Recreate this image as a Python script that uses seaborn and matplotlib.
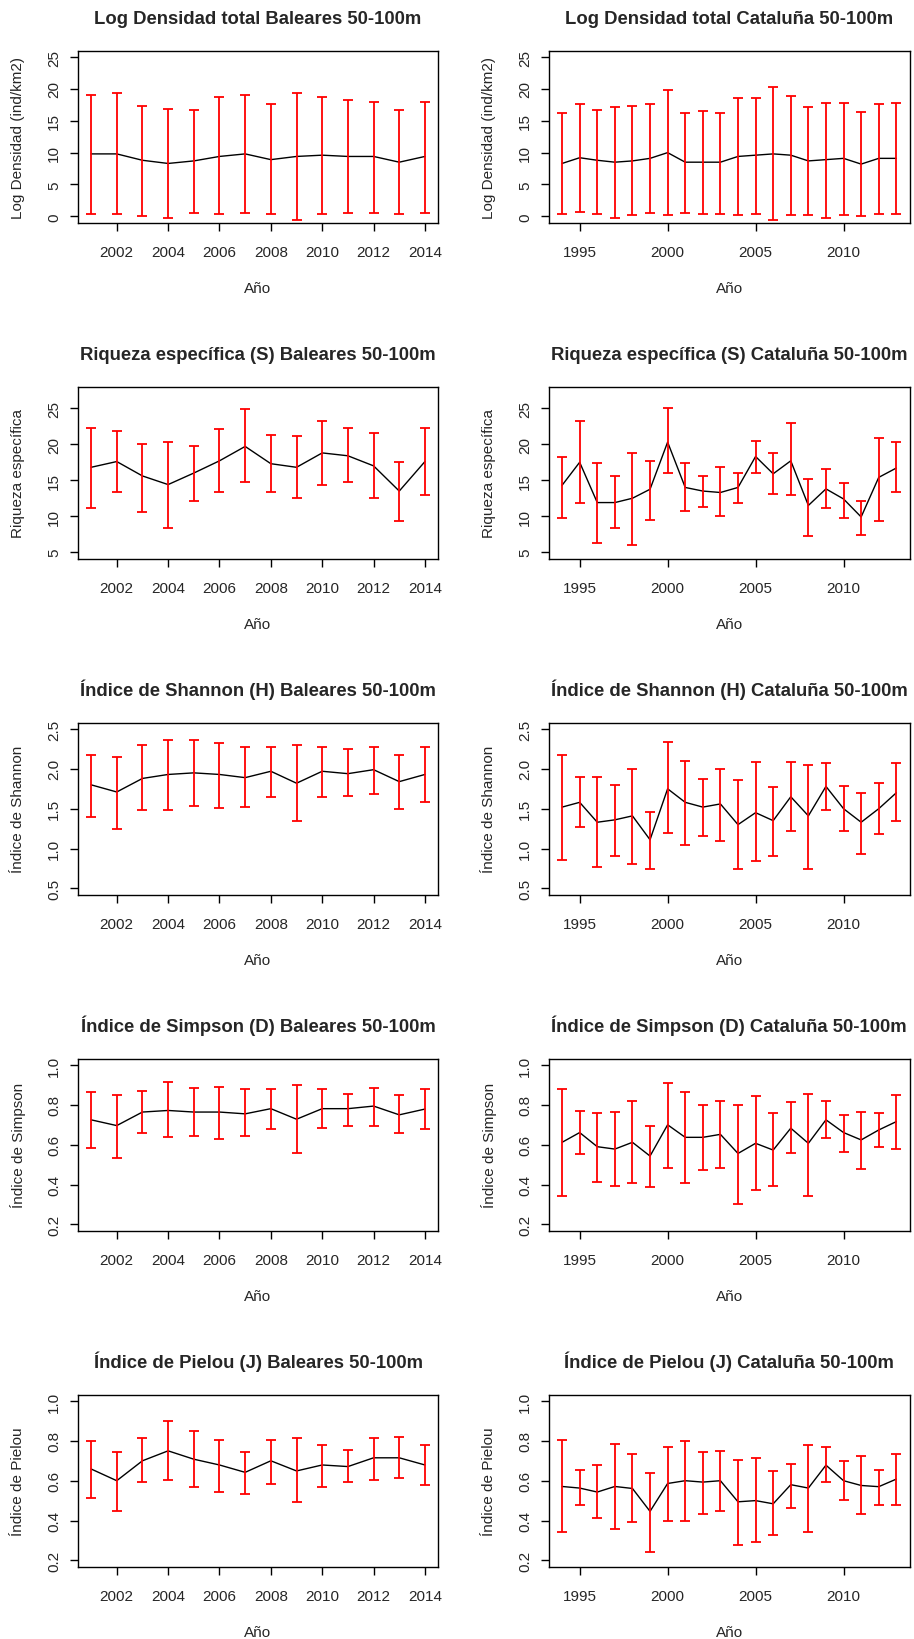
import numpy as np
import pandas as pd
import seaborn as sns
import matplotlib
matplotlib.use("Agg")
import matplotlib.pyplot as plt

# ---------------- data ----------------
years_bal = [2001, 2002, 2003, 2004, 2005, 2006, 2007, 2008, 2009, 2010, 2011, 2012, 2013, 2014]
years_cat = [1994, 1995, 1996, 1997, 1998, 1999, 2000, 2001, 2002, 2003,
             2004, 2005, 2006, 2007, 2008, 2009, 2010, 2011, 2012, 2013]

# Log densidad
dens_bal_mean = [9.8, 9.8, 8.8, 8.3, 8.7, 9.4, 9.8, 8.9, 9.4, 9.6, 9.4, 9.4, 8.5, 9.4]
dens_bal_up   = [19.1, 19.3, 17.3, 16.9, 16.7, 18.7, 19.1, 17.6, 19.3, 18.7, 18.2, 18.0, 16.7, 18.0]
dens_bal_lo   = [0.3, 0.3, 0.0, -0.2, 0.5, 0.3, 0.5, 0.3, -0.6, 0.3, 0.5, 0.5, 0.3, 0.5]
dens_cat_mean = [8.3, 9.2, 8.8, 8.5, 8.7, 9.1, 10.0, 8.5, 8.5, 8.5,
                 9.4, 9.6, 9.8, 9.6, 8.7, 8.9, 9.1, 8.2, 9.1, 9.1]
dens_cat_up   = [16.2, 17.6, 16.7, 17.1, 17.3, 17.6, 19.8, 16.2, 16.5, 16.2,
                 18.5, 18.5, 20.3, 18.9, 17.1, 17.8, 17.8, 16.4, 17.6, 17.8]
dens_cat_lo   = [0.4, 0.7, 0.4, -0.3, 0.2, 0.6, 0.2, 0.6, 0.4, 0.4,
                 0.2, 0.4, -0.5, 0.2, 0.2, -0.3, 0.2, 0.0, 0.4, 0.4]

# Riqueza especifica
riq_bal_mean = [16.8, 17.6, 15.6, 14.4, 16.0, 17.7, 19.7, 17.3, 16.8, 18.8, 18.4, 17.0, 13.5, 17.6]
riq_bal_up   = [22.3, 21.9, 20.1, 20.3, 19.7, 22.1, 24.9, 21.3, 21.1, 23.3, 22.3, 21.5, 17.6, 22.3]
riq_bal_lo   = [11.1, 13.3, 10.6, 8.4, 12.1, 13.3, 14.7, 13.3, 12.5, 14.3, 14.7, 12.5, 9.4, 12.9]
riq_cat_mean = [14.3, 17.5, 11.9, 11.9, 12.5, 13.75, 20.3, 14.0, 13.5, 13.3,
                14.0, 18.3, 15.9, 17.7, 11.5, 13.8, 12.4, 9.9, 15.4, 16.7]
riq_cat_up   = [18.2, 23.3, 17.4, 15.6, 18.8, 17.7, 25.0, 17.4, 15.6, 16.85,
                16.0, 20.5, 18.75, 22.9, 15.2, 16.6, 14.6, 12.1, 20.9, 20.3]
riq_cat_lo   = [9.8, 11.9, 6.25, 8.4, 6.0, 9.5, 16.0, 10.7, 11.3, 10.0,
                11.8, 16.0, 13.1, 12.9, 7.2, 11.2, 9.8, 7.4, 9.4, 13.3]

# Shannon
sha_bal_mean = [1.80, 1.71, 1.88, 1.93, 1.95, 1.93, 1.89, 1.97, 1.82, 1.97, 1.94, 1.99, 1.84, 1.93]
sha_bal_up   = [2.18, 2.15, 2.30, 2.36, 2.36, 2.32, 2.28, 2.27, 2.30, 2.28, 2.25, 2.28, 2.18, 2.27]
sha_bal_lo   = [1.39, 1.25, 1.48, 1.48, 1.54, 1.51, 1.52, 1.65, 1.35, 1.65, 1.66, 1.68, 1.50, 1.59]
sha_cat_mean = [1.52, 1.58, 1.33, 1.36, 1.41, 1.11, 1.75, 1.58, 1.52, 1.56,
                1.30, 1.45, 1.35, 1.65, 1.41, 1.78, 1.50, 1.33, 1.50, 1.70]
sha_cat_up   = [2.18, 1.90, 1.90, 1.80, 2.00, 1.46, 2.34, 2.10, 1.87, 2.00,
                1.86, 2.09, 1.77, 2.09, 2.05, 2.07, 1.79, 1.70, 1.82, 2.07]
sha_cat_lo   = [0.86, 1.27, 0.77, 0.90, 0.81, 0.74, 1.20, 1.04, 1.16, 1.09,
                0.74, 0.84, 0.90, 1.22, 0.74, 1.48, 1.22, 0.93, 1.18, 1.34]

# Simpson
sim_bal_mean = [0.725, 0.696, 0.764, 0.772, 0.764, 0.764, 0.755, 0.781, 0.728, 0.781, 0.781, 0.794, 0.750, 0.779]
sim_bal_up   = [0.863, 0.850, 0.870, 0.914, 0.887, 0.892, 0.878, 0.878, 0.900, 0.878, 0.857, 0.887, 0.850, 0.878]
sim_bal_lo   = [0.585, 0.534, 0.657, 0.637, 0.644, 0.629, 0.644, 0.679, 0.558, 0.686, 0.695, 0.695, 0.657, 0.679]
sim_cat_mean = [0.612, 0.661, 0.590, 0.578, 0.612, 0.543, 0.700, 0.637, 0.637, 0.652,
                0.556, 0.607, 0.573, 0.683, 0.607, 0.725, 0.661, 0.624, 0.674, 0.716]
sim_cat_up   = [0.880, 0.769, 0.757, 0.764, 0.821, 0.695, 0.912, 0.863, 0.799, 0.821,
                0.799, 0.843, 0.757, 0.814, 0.857, 0.821, 0.750, 0.764, 0.757, 0.850]
sim_cat_lo   = [0.342, 0.551, 0.414, 0.392, 0.408, 0.386, 0.485, 0.408, 0.472, 0.485,
                0.300, 0.372, 0.392, 0.558, 0.342, 0.635, 0.565, 0.478, 0.587, 0.578]

# Pielou
pie_bal_mean = [0.659, 0.600, 0.700, 0.750, 0.708, 0.679, 0.642, 0.700, 0.649, 0.679, 0.671, 0.715, 0.715, 0.679]
pie_bal_up   = [0.799, 0.742, 0.814, 0.899, 0.848, 0.806, 0.742, 0.806, 0.814, 0.777, 0.755, 0.814, 0.821, 0.777]
pie_bal_lo   = [0.512, 0.448, 0.592, 0.605, 0.570, 0.543, 0.534, 0.585, 0.492, 0.570, 0.592, 0.605, 0.612, 0.576]
pie_cat_mean = [0.571, 0.563, 0.543, 0.571, 0.561, 0.446, 0.586, 0.600, 0.593, 0.600,
                0.494, 0.500, 0.484, 0.580, 0.563, 0.678, 0.600, 0.576, 0.570, 0.608]
pie_cat_up   = [0.806, 0.656, 0.679, 0.784, 0.733, 0.640, 0.770, 0.799, 0.742, 0.749,
                0.706, 0.713, 0.649, 0.684, 0.777, 0.770, 0.700, 0.722, 0.656, 0.733]
pie_cat_lo   = [0.342, 0.477, 0.413, 0.355, 0.391, 0.242, 0.399, 0.399, 0.435, 0.448,
                0.278, 0.293, 0.327, 0.463, 0.342, 0.592, 0.505, 0.435, 0.477, 0.477]

titles_bal = ["Log Densidad total Baleares 50-100m",
              "Riqueza específica (S) Baleares 50-100m",
              "Índice de Shannon (H) Baleares 50-100m",
              "Índice de Simpson (D) Baleares 50-100m",
              "Índice de Pielou (J) Baleares 50-100m"]
titles_cat = ["Log Densidad total Cataluña 50-100m",
              "Riqueza específica (S) Cataluña 50-100m",
              "Índice de Shannon (H) Cataluña 50-100m",
              "Índice de Simpson (D) Cataluña 50-100m",
              "Índice de Pielou (J) Cataluña 50-100m"]
ylabels = ["Log Densidad (ind/km2)", "Riqueza específica", "Índice de Shannon",
           "Índice de Simpson", "Índice de Pielou"]
xlabel = "Año"
yticks_list = [[0, 5, 10, 15, 20, 25],
               [5, 10, 15, 20, 25],
               [0.5, 1.0, 1.5, 2.0, 2.5],
               [0.2, 0.4, 0.6, 0.8, 1.0],
               [0.2, 0.4, 0.6, 0.8, 1.0]]
ytick_labels = [["0", "5", "10", "15", "20", "25"],
                ["5", "10", "15", "20", "25"],
                ["0.5", "1.0", "1.5", "2.0", "2.5"],
                ["0.2", "0.4", "0.6", "0.8", "1.0"],
                ["0.2", "0.4", "0.6", "0.8", "1.0"]]
ylims = [(-1.0, 26.0), (4.1, 28.0), (0.42, 2.58), (0.168, 1.032), (0.168, 1.032)]
xticks_bal = [2002, 2004, 2006, 2008, 2010, 2012, 2014]
xticks_cat = [1995, 2000, 2005, 2010]

bal_sets = [(dens_bal_mean, dens_bal_lo, dens_bal_up),
            (riq_bal_mean, riq_bal_lo, riq_bal_up),
            (sha_bal_mean, sha_bal_lo, sha_bal_up),
            (sim_bal_mean, sim_bal_lo, sim_bal_up),
            (pie_bal_mean, pie_bal_lo, pie_bal_up)]
cat_sets = [(dens_cat_mean, dens_cat_lo, dens_cat_up),
            (riq_cat_mean, riq_cat_lo, riq_cat_up),
            (sha_cat_mean, sha_cat_lo, sha_cat_up),
            (sim_cat_mean, sim_cat_lo, sim_cat_up),
            (pie_cat_mean, pie_cat_lo, pie_cat_up)]

# ---------------- style ----------------
sns.set_style("ticks")
plt.rcParams["font.family"] = ["Liberation Sans", "DejaVu Sans"]
plt.rcParams["axes.linewidth"] = 1.0
plt.rcParams["axes.edgecolor"] = "black"

W, H = 914, 1640
DPI = 100
fig = plt.figure(figsize=(W / DPI, H / DPI), dpi=DPI)
fig.patch.set_facecolor("white")

ax_h = 172.0
ax_w_l = 438.3 - 77.7
ax_w_r = 909.7 - 548.7
lefts = [77.7, 548.7]
widths = [ax_w_l, ax_w_r]
row_top0 = 51.7
row_pitch = 336.0

TICK_FS = 11.0
TITLE_FS = 13.3


def draw(ax, years, mean, lo, up, title, ylab, yt, ytl, ylim, xt, xlim):
    df = pd.DataFrame({"Año": years, "v": mean})
    sns.lineplot(data=df, x="Año", y="v", ax=ax, color="black", linewidth=1.0,
                 errorbar=None)
    m = np.array(mean)
    ax.errorbar(years, m, yerr=[m - np.array(lo), np.array(up) - m], fmt="none",
                ecolor="#ff0000", elinewidth=1.3, capsize=3.6, capthick=1.3, zorder=3)
    ax.set_xlim(*xlim)
    ax.set_ylim(*ylim)
    ax.set_xticks(xt)
    ax.set_xticklabels([str(v) for v in xt], fontsize=TICK_FS)
    ax.set_yticks(yt)
    ax.set_yticklabels(ytl, fontsize=TICK_FS, rotation=90, va="center")
    ax.tick_params(axis="both", direction="out", length=5.8, width=1.0, color="black")
    ax.tick_params(axis="x", pad=10.5)
    ax.tick_params(axis="y", pad=6)
    for s in ax.spines.values():
        s.set_visible(True)
        s.set_color("black")
        s.set_linewidth(1.0)
    ax.set_title(title, fontsize=TITLE_FS, fontweight="bold", pad=20)
    ax.set_xlabel(xlabel, fontsize=TICK_FS, va="center")
    ax.xaxis.set_label_coords(0.5, -65.0 / ax_h)
    ax.set_ylabel(ylab, fontsize=TICK_FS, va="center")
    ax.grid(False)


for i in range(5):
    top = row_top0 + row_pitch * i
    bottom_frac = 1 - (top + ax_h) / H
    for j in range(2):
        ax = fig.add_axes([lefts[j] / W, bottom_frac, widths[j] / W, ax_h / H])
        if j == 0:
            years = years_bal
            mean, lo, up = bal_sets[i]
            title = titles_bal[i]
            xt = xticks_bal
            xlim = (2000.48, 2014.52)
            ylab_x = -(77.7 - 18.0) / widths[j]
        else:
            years = years_cat
            mean, lo, up = cat_sets[i]
            title = titles_cat[i]
            xt = xticks_cat
            xlim = (1993.24, 2013.76)
            ylab_x = -(548.7 - 489.0) / widths[j]
        draw(ax, years, mean, lo, up, title, ylabels[i], yticks_list[i],
             ytick_labels[i], ylims[i], xt, xlim)
        ax.yaxis.set_label_coords(ylab_x, 0.5)

fig.savefig("out.png", dpi=DPI, facecolor="white")
